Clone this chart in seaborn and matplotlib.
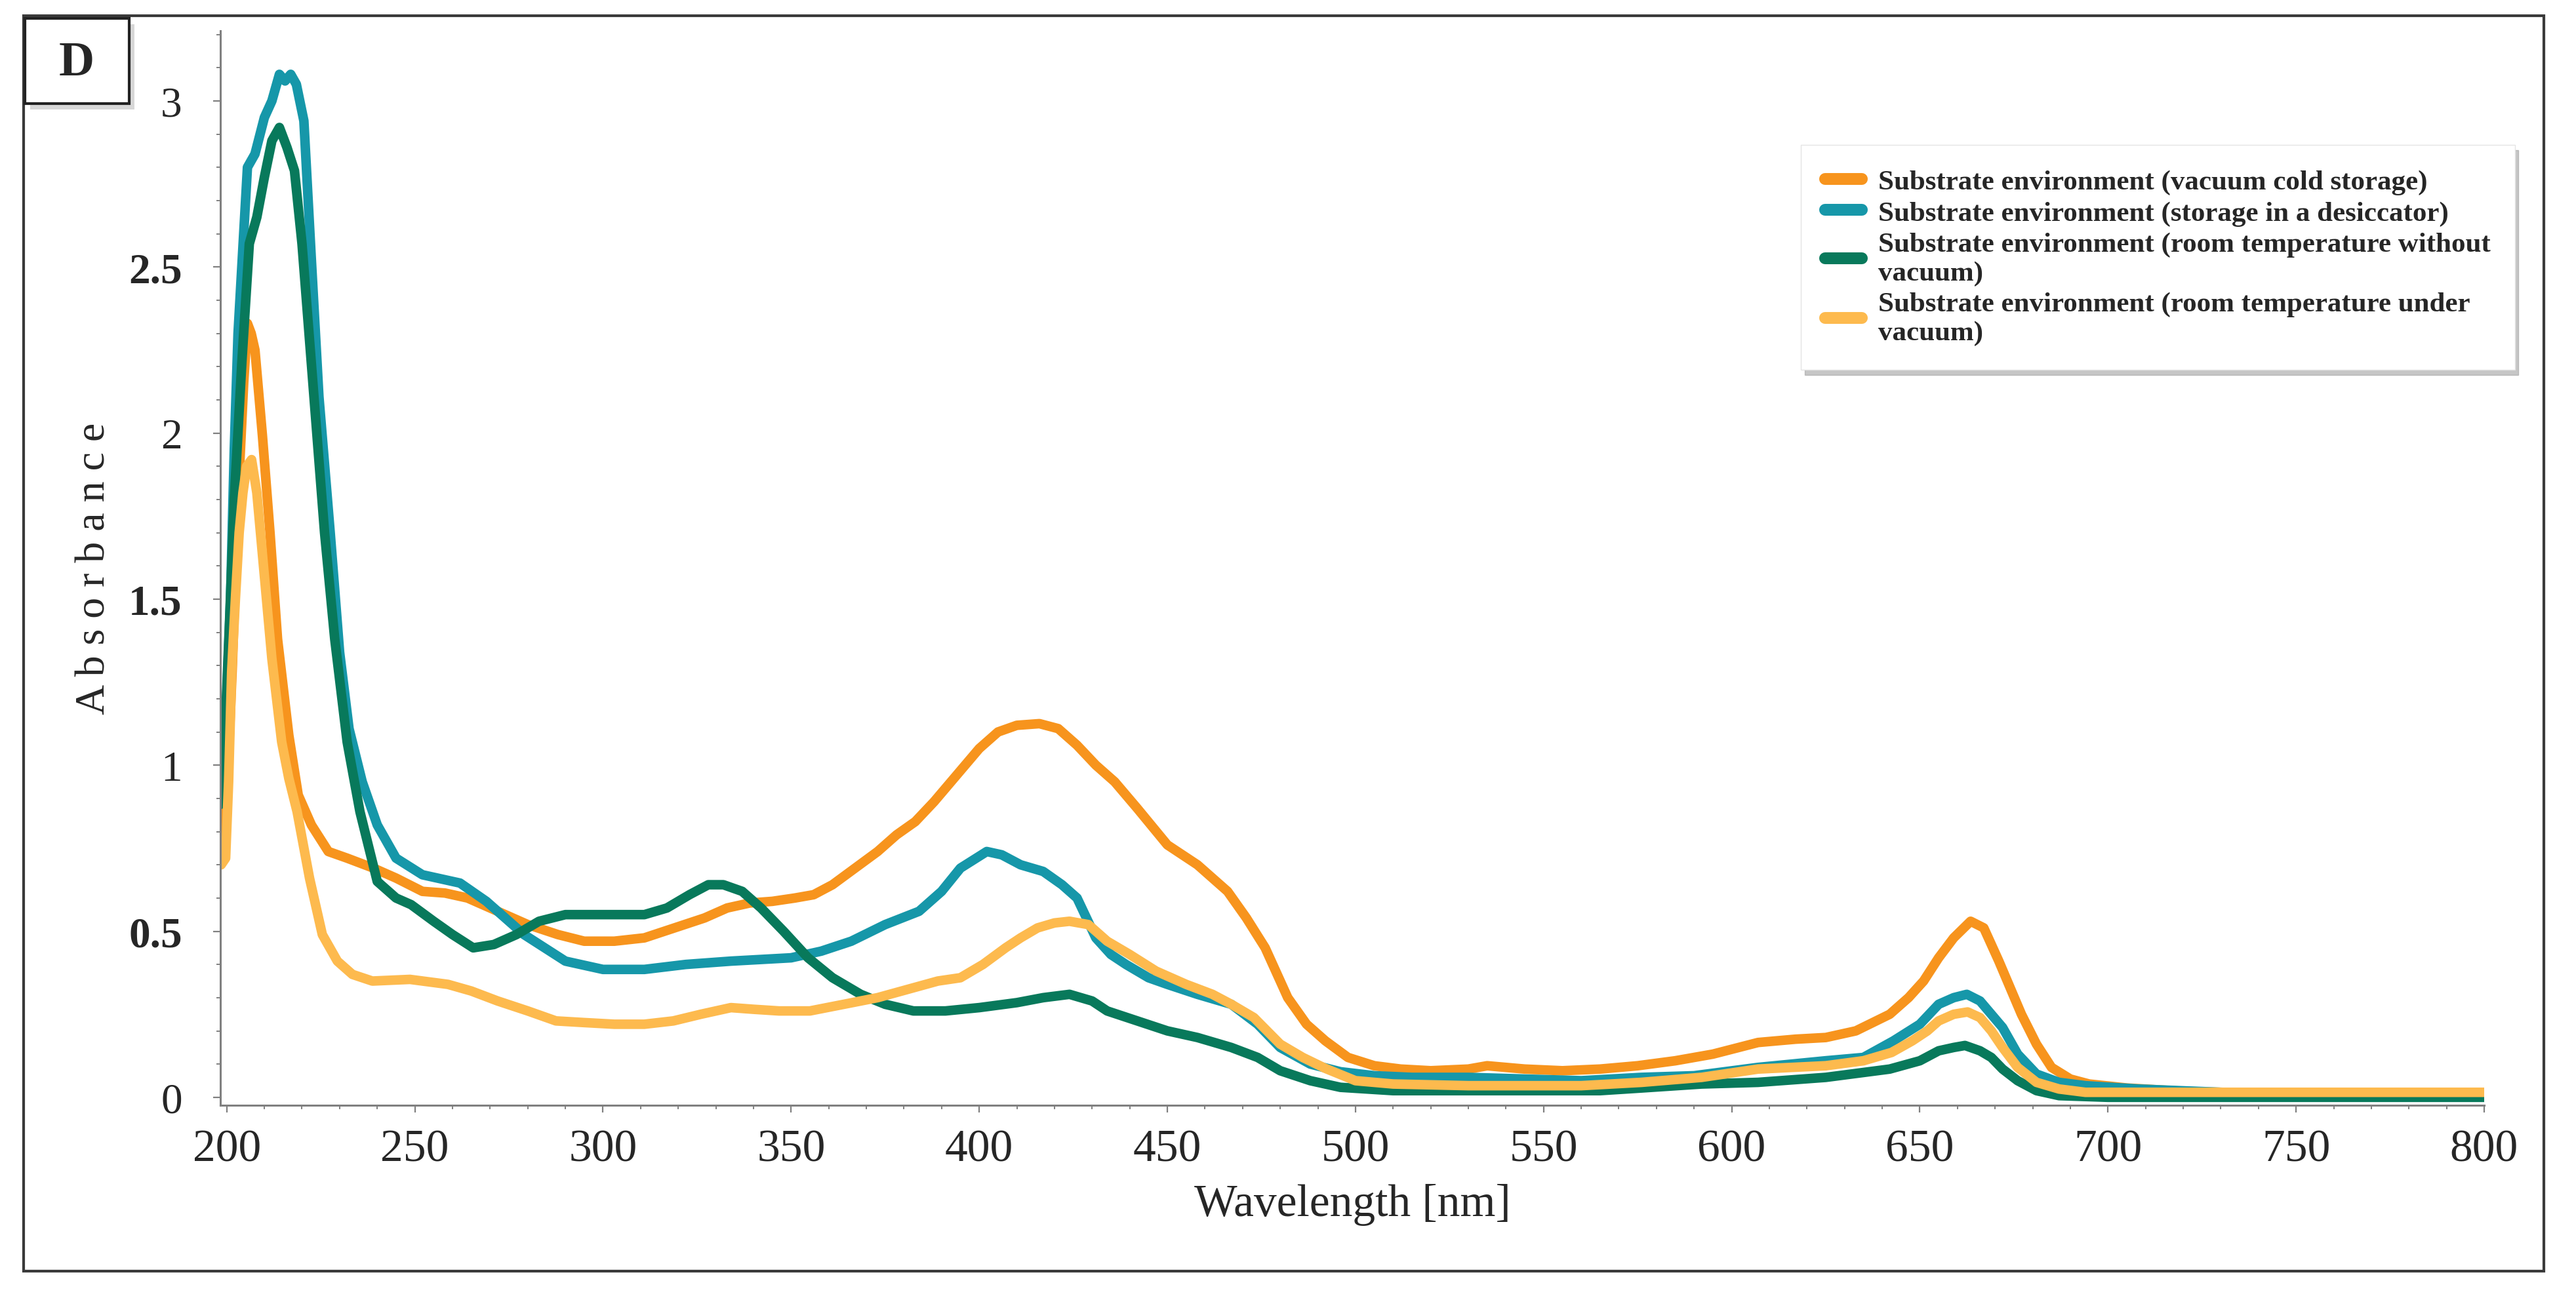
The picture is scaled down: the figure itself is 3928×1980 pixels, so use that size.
import numpy as np
import pandas as pd
import matplotlib
matplotlib.use('Agg')
import matplotlib.pyplot as plt
from matplotlib.patches import Rectangle
from matplotlib.lines import Line2D
from matplotlib.ticker import MultipleLocator
import seaborn as sns

# UV-Vis spectra (wavelength in nm, absorbance)
orange_nm = [198.5, 200, 201.5, 203, 204.5, 205.5, 206.5, 207.5, 209.5, 211.5,
             213.5, 216.5, 219, 222.5, 227, 232, 239, 245, 252, 258,
             264, 270, 280, 288, 295, 303, 311, 319, 327, 333,
             339, 345, 351, 356, 361, 367, 373, 378, 383, 388,
             394, 400, 405, 410, 416, 421, 426, 431, 436, 442,
             450, 458, 466, 471, 476, 482, 487, 492, 498, 505,
             512, 520, 530, 535, 545, 555, 565, 575, 585, 595,
             607, 617, 625, 633, 642, 647, 651, 655, 659, 663.5,
             667, 671, 674, 677, 681, 685, 690, 695, 705, 720,
             740, 770, 800]
orange_abs = [0.72, 0.9, 1.3, 1.8, 2.15, 2.33, 2.3, 2.25, 1.99, 1.70,
              1.38, 1.09, 0.91, 0.82, 0.74, 0.72, 0.69, 0.66, 0.62, 0.615,
              0.60, 0.57, 0.52, 0.49, 0.47, 0.47, 0.48, 0.51, 0.54, 0.57,
              0.585, 0.59, 0.60, 0.61, 0.64, 0.69, 0.74, 0.79, 0.83, 0.89,
              0.97, 1.05, 1.10, 1.12, 1.125, 1.11, 1.06, 1.0, 0.95, 0.87,
              0.76, 0.70, 0.62, 0.54, 0.45, 0.30, 0.22, 0.17, 0.12, 0.095,
              0.085, 0.08, 0.085, 0.095, 0.085, 0.08, 0.085, 0.095, 0.11, 0.13,
              0.165, 0.175, 0.18, 0.20, 0.25, 0.30, 0.35, 0.42, 0.48, 0.53,
              0.51, 0.41, 0.33, 0.25, 0.16, 0.09, 0.055, 0.04, 0.028, 0.018,
              0.012, 0.01, 0.01]

teal_nm = [198, 199, 200, 201, 202, 203, 204.5, 205.5, 207.5, 210,
           212, 214, 215.5, 217, 218.5, 220.5, 222.5, 224.5, 227.5, 230,
           232.5, 236, 240, 245, 252, 262, 269, 279, 290, 300,
           311, 322, 334, 350, 358, 366, 375, 384, 390, 395,
           402, 406, 411, 417, 422, 426, 431, 435, 439, 445,
           450, 458, 467, 474, 480, 488, 496, 505, 515, 530,
           545, 560, 576, 590, 607, 625, 635, 643, 650, 655,
           659, 662.5, 666, 669, 672, 676, 681, 687, 694, 708,
           730, 760, 800]
teal_abs = [0.88, 0.95, 1.2, 1.5, 1.95, 2.3, 2.6, 2.8, 2.84, 2.95,
            3.0, 3.08, 3.06, 3.08, 3.05, 2.94, 2.52, 2.11, 1.70, 1.34,
            1.11, 0.95, 0.82, 0.72, 0.67, 0.645, 0.59, 0.49, 0.41, 0.385,
            0.385, 0.40, 0.41, 0.42, 0.44, 0.47, 0.52, 0.56, 0.62, 0.69,
            0.74, 0.73, 0.70, 0.68, 0.64, 0.60, 0.48, 0.43, 0.40, 0.36,
            0.34, 0.31, 0.28, 0.22, 0.15, 0.10, 0.077, 0.065, 0.06, 0.06,
            0.055, 0.05, 0.06, 0.065, 0.09, 0.11, 0.12, 0.17, 0.22, 0.28,
            0.30, 0.31, 0.29, 0.25, 0.21, 0.13, 0.07, 0.045, 0.035, 0.025,
            0.015, 0.01, 0.01]

green_nm = [198, 199, 200.7, 202, 204, 206, 208, 210, 212, 214,
            216, 218, 220, 222, 224, 226, 228.7, 232, 235.4, 240,
            245, 249, 255, 260, 265.5, 271, 277, 283, 290, 297,
            305, 311, 317, 323, 328, 332, 337, 342, 348, 354.5,
            361, 368.5, 375, 382.5, 391, 400, 410, 417, 424, 430,
            434, 442, 450, 458, 467, 474, 480, 488, 496, 510,
            530, 550, 565, 576, 592, 607, 625, 642, 650, 655,
            659, 662, 666, 669, 672, 676, 681, 687, 700, 800]
green_abs = [0.88, 0.95, 1.42, 1.80, 2.21, 2.57, 2.65, 2.77, 2.88, 2.92,
             2.86, 2.79, 2.57, 2.28, 1.99, 1.70, 1.38, 1.07, 0.86, 0.65,
             0.60, 0.58, 0.53, 0.49, 0.45, 0.46, 0.49, 0.53, 0.55, 0.55,
             0.55, 0.55, 0.57, 0.61, 0.64, 0.64, 0.62, 0.57, 0.50, 0.42,
             0.36, 0.31, 0.28, 0.26, 0.26, 0.27, 0.285, 0.30, 0.31, 0.29,
             0.26, 0.23, 0.20, 0.18, 0.15, 0.12, 0.08, 0.05, 0.03, 0.02,
             0.02, 0.02, 0.02, 0.028, 0.04, 0.045, 0.06, 0.085, 0.11, 0.14,
             0.15, 0.156, 0.14, 0.12, 0.085, 0.05, 0.02, 0.005, 0.0, 0.0]

yellow_nm = [198.5, 199.7, 200.5, 201.3, 202.3, 203.3, 204.3, 205.3, 206.6, 208,
             210, 212, 214.6, 216.5, 218.7, 222, 225.4, 229.4, 233.4, 238.7,
             248.7, 258.8, 265, 272, 280, 287.5, 295, 303, 311, 318.7,
             326, 334, 340, 346.8, 355, 364, 373, 382.6, 389, 395,
             401, 407, 411, 415.5, 420, 424, 429, 434, 440, 447,
             455, 462, 467, 473, 480, 486, 492, 500, 510, 530,
             560, 576, 592, 607, 625, 635, 642.5, 648, 652, 655,
             659, 662.7, 666, 669, 672, 676, 681, 687, 694, 720,
             760, 800]
yellow_abs = [0.70, 0.72, 0.95, 1.28, 1.5, 1.70, 1.82, 1.90, 1.92, 1.82,
              1.57, 1.32, 1.07, 0.96, 0.86, 0.66, 0.49, 0.41, 0.37, 0.35,
              0.355, 0.34, 0.32, 0.29, 0.26, 0.23, 0.225, 0.22, 0.22, 0.23,
              0.25, 0.27, 0.265, 0.26, 0.26, 0.28, 0.30, 0.33, 0.35, 0.36,
              0.40, 0.45, 0.48, 0.51, 0.525, 0.53, 0.52, 0.47, 0.43, 0.38,
              0.34, 0.31, 0.28, 0.24, 0.16, 0.12, 0.087, 0.05, 0.04, 0.035,
              0.035, 0.045, 0.06, 0.085, 0.095, 0.11, 0.135, 0.17, 0.20, 0.23,
              0.25, 0.257, 0.24, 0.2, 0.15, 0.09, 0.045, 0.025, 0.015, 0.015,
              0.015, 0.015]

labels = ['Substrate environment (vacuum cold storage)',
          'Substrate environment (storage in a desiccator)',
          'Substrate environment (room temperature without\nvacuum)',
          'Substrate environment (room temperature under\nvacuum)']
colors = ['#F7941D', '#1697A9', '#08795B', '#FDBA4E']

y_ticks = [0, 0.5, 1, 1.5, 2, 2.5, 3]
y_ticklabels = ['0', '0.5', '1', '1.5', '2', '2.5', '3']
x_ticks = [200, 250, 300, 350, 400, 450, 500, 550, 600, 650, 700, 750, 800]

# long form table for seaborn
parts = []
for lab, nm, ab in zip(labels,
                       [orange_nm, teal_nm, green_nm, yellow_nm],
                       [orange_abs, teal_abs, green_abs, yellow_abs]):
    parts.append(pd.DataFrame({'Wavelength': nm, 'Absorbance': ab, 'Sample': lab}))
df = pd.concat(parts, ignore_index=True)

sns.set_theme(style='ticks')
plt.rcParams['font.family'] = ['Liberation Serif', 'DejaVu Serif']

W, H = 3928, 1981
fig = plt.figure(figsize=(W / 100, H / 100), dpi=100)
fig.patch.set_facecolor('white')

# axes placed where the reference has them (pixel coords)
ax_l, ax_r, ax_t, ax_b = 336, 3788, 48, 1687
ax = fig.add_axes([ax_l / W, 1 - ax_b / H, (ax_r - ax_l) / W, (ax_b - ax_t) / H])

sns.lineplot(data=df, x='Wavelength', y='Absorbance', hue='Sample',
             hue_order=labels, palette=colors, estimator=None, sort=False,
             linewidth=10.5, legend=False, ax=ax)

ax.set_xlim(198.3, 800)
ax.set_ylim(-0.024, 3.211)
ax.set_xticks(x_ticks)
ax.set_yticks(y_ticks)
ax.set_yticklabels(y_ticklabels)
ax.xaxis.set_minor_locator(MultipleLocator(10))
ax.yaxis.set_minor_locator(MultipleLocator(0.1))

for side in ['top', 'right']:
    ax.spines[side].set_visible(False)
for side in ['left', 'bottom']:
    ax.spines[side].set_color('#808080')
    ax.spines[side].set_linewidth(2.2)

ax.tick_params(axis='both', which='major', length=8, width=1.6, color='#808080')
ax.tick_params(axis='both', which='minor', length=4.5, width=1.4, color='#808080')
ax.tick_params(axis='x', which='major', labelsize=50, pad=18)
ax.tick_params(axis='y', which='major', labelsize=47, pad=34)
for t in ax.get_yticklabels():
    if '.5' in t.get_text():
        t.set_fontweight('bold')

ax.set_xlabel('Wavelength [nm]', fontsize=50, labelpad=14)
ax.set_ylabel('A b s o r b a n c e', fontsize=46)
ax.yaxis.set_label_coords(-0.047, 0.5)

# legend with small rounded colour bars
handles = [Line2D([0], [0], color=c, lw=13, solid_capstyle='round') for c in colors]
leg = fig.legend(handles, labels, loc='upper left',
                 bbox_to_anchor=(2746 / W, 1 - 222 / H), bbox_transform=fig.transFigure,
                 borderaxespad=0, frameon=True, fancybox=False,
                 shadow={'ox': 4, 'oy': -6, 'color': '#a0a0a0', 'alpha': 0.6},
                 prop={'family': 'Liberation Serif', 'weight': 'bold', 'size': 31},
                 handlelength=1.3, handletextpad=0.6, labelspacing=0.2,
                 borderpad=0.85)
leg.get_frame().set_edgecolor('#e4e4e4')
leg.get_frame().set_linewidth(1)

# outer panel frame
fig.add_artist(Rectangle((36 / W, 1 - 1940 / H), (3879 - 36) / W, (1940 - 25) / H,
                         transform=fig.transFigure, fill=False,
                         edgecolor='#3a3a3a', linewidth=3, zorder=5))

# panel letter box with a soft shadow
fig.add_artist(Rectangle((46 / W, 1 - 168 / H), (197 - 38) / W, (159 - 29) / H,
                         transform=fig.transFigure, facecolor='#b0b0b0',
                         edgecolor='none', alpha=0.5, zorder=5))
fig.add_artist(Rectangle((38 / W, 1 - 159 / H), (197 - 38) / W, (159 - 29) / H,
                         transform=fig.transFigure, facecolor='white',
                         edgecolor='#222222', linewidth=3, zorder=6))
fig.text(117 / W, 1 - 97 / H, 'D', fontsize=54, fontweight='bold',
         ha='center', va='center', zorder=7)

fig.savefig('out.png', dpi=100)
